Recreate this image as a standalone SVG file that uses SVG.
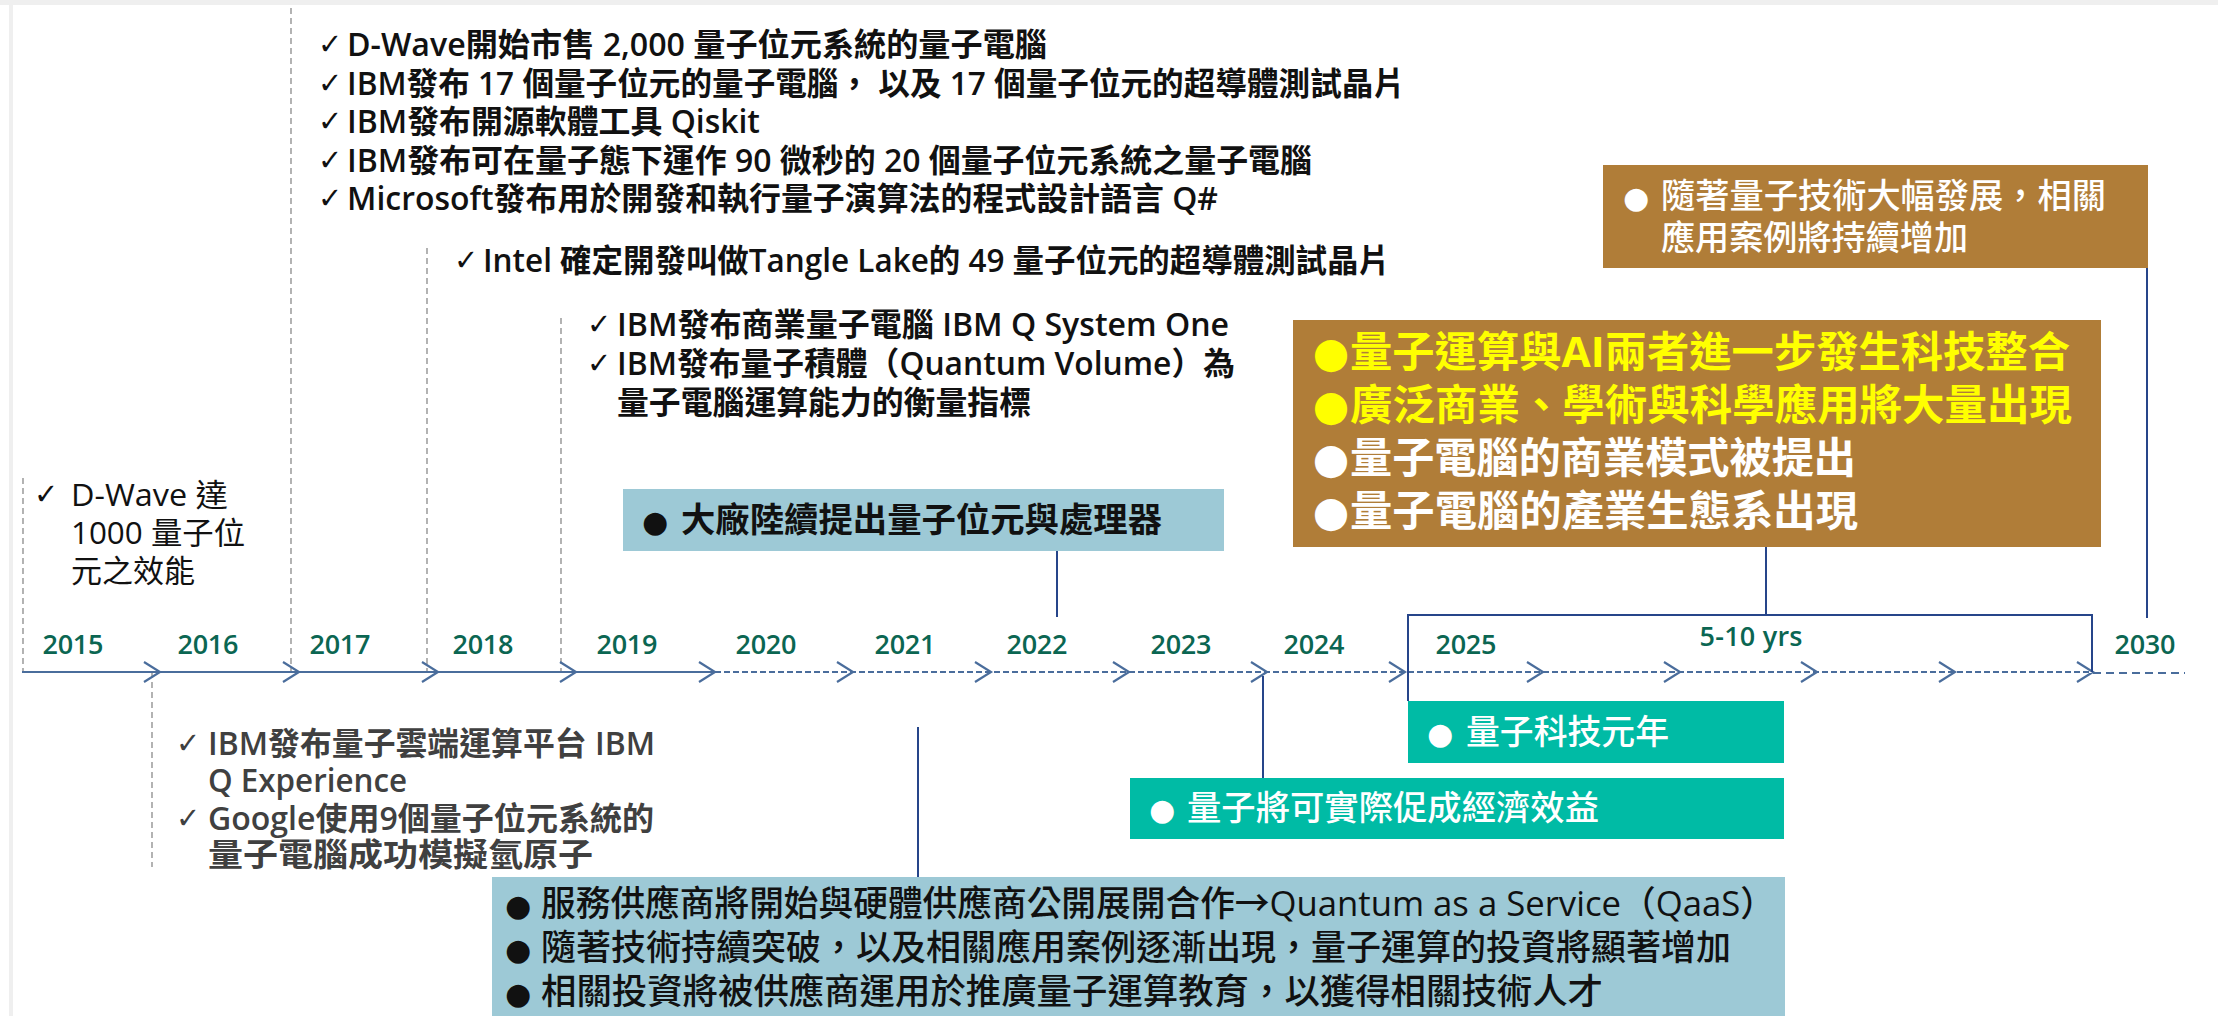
<svg xmlns="http://www.w3.org/2000/svg" width="2218" height="1016" viewBox="0 0 2218 1016">
<style>
.t{font-family:'Open Sans','Noto Sans CJK TC',sans-serif;}
.chk{font-family:'DejaVu Sans',sans-serif;font-size:29px;fill:#111;}
.bul{font-family:'DejaVu Sans',sans-serif;text-anchor:middle;}
.yr{font-family:'Open Sans','Noto Sans CJK TC',sans-serif;font-size:27px;font-weight:600;fill:#0B6652;text-anchor:middle;}
.dash{stroke:#8a8a8a;stroke-width:1.3;stroke-dasharray:6 4;fill:none;}
.conn{stroke:#26458a;stroke-width:2;fill:none;}
.axis{stroke:#4a6d9c;stroke-width:2.2;fill:none;}
.blk{fill:#111;font-weight:600;font-size:32px;}
.lb{fill:#9DC9D6;}
.teal{fill:#00BBA5;}
.brown{fill:#B07D38;}
.wt{fill:#fff;font-size:34px;font-weight:500;}
</style>
<rect x="0" y="0" width="2218" height="1016" fill="#fff"/>
<rect x="0" y="0" width="2218" height="5" fill="#efefef"/>
<rect x="9" y="0" width="4" height="1016" fill="#efefef"/>

<g id="guides">
<line class="dash" x1="23" y1="478" x2="23" y2="672"/>
<line class="dash" x1="291" y1="8" x2="291" y2="672"/>
<line class="dash" x1="427" y1="248" x2="427" y2="672"/>
<line class="dash" x1="561" y1="318" x2="561" y2="672"/>
<line class="dash" x1="152" y1="672" x2="152" y2="867"/>
</g>

<g id="timeline">
<line class="axis" x1="22" y1="672" x2="715" y2="672"/>
<line class="axis" x1="715" y1="672" x2="2093" y2="672" stroke-dasharray="6 3"/>
<line class="axis" x1="2093" y1="673" x2="2185" y2="673" stroke-dasharray="8 5" stroke-width="1.6"/>
<path class="axis" d="M144,662L160,672L144,682 M283,662L299,672L283,682 M422,662L438,672L422,682 M560,662L576,672L560,682 M699,662L715,672L699,682 M837,662L853,672L837,682 M975,662L991,672L975,682 M1113,662L1129,672L1113,682 M1251,662L1267,672L1251,682 M1389,662L1405,672L1389,682 M1527,662L1543,672L1527,682 M1664,662L1680,672L1664,682 M1801,662L1817,672L1801,682 M1939,662L1955,672L1939,682 M2077,662L2093,672L2077,682"/>
</g>

<g id="years">
<text class="yr" x="73" y="654" textLength="61">2015</text>
<text class="yr" x="208" y="654" textLength="61">2016</text>
<text class="yr" x="340" y="654" textLength="61">2017</text>
<text class="yr" x="483" y="654" textLength="61">2018</text>
<text class="yr" x="627" y="654" textLength="61">2019</text>
<text class="yr" x="766" y="654" textLength="61">2020</text>
<text class="yr" x="905" y="654" textLength="61">2021</text>
<text class="yr" x="1037" y="654" textLength="61">2022</text>
<text class="yr" x="1181" y="654" textLength="61">2023</text>
<text class="yr" x="1314" y="654" textLength="61">2024</text>
<text class="yr" x="1466" y="654" textLength="61">2025</text>
<text class="yr" x="2145" y="654" textLength="61">2030</text>
<text class="yr" x="1751" y="646" textLength="103" font-size="26">5-10 yrs</text>
</g>

<g id="connectors">
<line class="conn" x1="1057" y1="551" x2="1057" y2="617"/>
<line class="conn" x1="1263" y1="676" x2="1263" y2="778"/>
<line class="conn" x1="918" y1="727" x2="918" y2="877"/>
<line class="conn" x1="1766" y1="547" x2="1766" y2="615"/>
<line class="conn" x1="2147" y1="268" x2="2147" y2="618"/>
<polyline class="conn" points="1408,701 1408,615 2092,615 2092,672"/>
</g>

<g id="n2015">
<text class="chk" x="34" y="504">✓</text>
<text class="t" fill="#111" font-size="31" x="71" y="506" textLength="157" lengthAdjust="spacingAndGlyphs">D-Wave 達</text>
<text class="t" fill="#111" font-size="31" x="71" y="544" textLength="174" lengthAdjust="spacingAndGlyphs">1000 量子位</text>
<text class="t" fill="#111" font-size="31" x="71" y="582" textLength="124" lengthAdjust="spacingAndGlyphs">元之效能</text>
</g>

<g id="n2016">
<text class="chk" x="176" y="753" style="fill:#404040">✓</text>
<text class="t blk" style="fill:#404040" x="208" y="755" textLength="447" lengthAdjust="spacingAndGlyphs">IBM發布量子雲端運算平台 IBM</text>
<text class="t blk" style="fill:#404040" x="208" y="792" textLength="199" lengthAdjust="spacingAndGlyphs">Q Experience</text>
<text class="chk" x="176" y="828" style="fill:#404040">✓</text>
<text class="t blk" style="fill:#404040" x="208" y="830" textLength="446" lengthAdjust="spacingAndGlyphs">Google使用9個量子位元系統的</text>
<text class="t blk" style="fill:#404040" x="208" y="866" textLength="385" lengthAdjust="spacingAndGlyphs">量子電腦成功模擬氫原子</text>
</g>

<g id="n2017">
<text class="chk" x="318" y="54">✓</text>
<text class="t blk" x="347" y="56" textLength="700" lengthAdjust="spacingAndGlyphs">D-Wave開始市售 2,000 量子位元系統的量子電腦</text>
<text class="chk" x="318" y="93">✓</text>
<text class="t blk" x="347" y="95" textLength="1058" lengthAdjust="spacingAndGlyphs">IBM發布 17 個量子位元的量子電腦， 以及 17 個量子位元的超導體測試晶片</text>
<text class="chk" x="318" y="131">✓</text>
<text class="t blk" x="347" y="133" textLength="413" lengthAdjust="spacingAndGlyphs">IBM發布開源軟體工具 Qiskit</text>
<text class="chk" x="318" y="170">✓</text>
<text class="t blk" x="347" y="172" textLength="965" lengthAdjust="spacingAndGlyphs">IBM發布可在量子態下運作 90 微秒的 20 個量子位元系統之量子電腦</text>
<text class="chk" x="318" y="208">✓</text>
<text class="t blk" x="347" y="210" textLength="871" lengthAdjust="spacingAndGlyphs">Microsoft發布用於開發和執行量子演算法的程式設計語言 Q#</text>
</g>

<g id="n2018">
<text class="chk" x="454" y="270">✓</text>
<text class="t blk" x="483" y="272" textLength="907" lengthAdjust="spacingAndGlyphs">Intel 確定開發叫做Tangle Lake的 49 量子位元的超導體測試晶片</text>
</g>

<g id="n2019">
<text class="chk" x="587" y="334">✓</text>
<text class="t blk" x="617" y="336" textLength="612" lengthAdjust="spacingAndGlyphs">IBM發布商業量子電腦 IBM Q System One</text>
<text class="chk" x="587" y="373">✓</text>
<text class="t blk" x="617" y="375" textLength="618" lengthAdjust="spacingAndGlyphs">IBM發布量子積體（Quantum Volume）為</text>
<text class="t blk" x="617" y="414" textLength="414" lengthAdjust="spacingAndGlyphs">量子電腦運算能力的衡量指標</text>
</g>

<g id="n2022">
<rect class="lb" x="623" y="489" width="601" height="62"/>
<text class="bul" x="655" y="532" font-size="30" fill="#111">●</text>
<text class="t" x="681" y="532" font-size="34" font-weight="700" fill="#111" textLength="481" lengthAdjust="spacingAndGlyphs">大廠陸續提出量子位元與處理器</text>
</g>

<g id="n2021">
<rect class="lb" x="492" y="877" width="1293" height="139"/>
<text class="bul" x="518" y="916" font-size="30" fill="#111">●</text>
<text class="t" x="541" y="916" font-size="35" font-weight="500" fill="#111" textLength="1234" lengthAdjust="spacingAndGlyphs">服務供應商將開始與硬體供應商公開展開合作→Quantum as a Service（QaaS）</text>
<text class="bul" x="518" y="960" font-size="30" fill="#111">●</text>
<text class="t" x="541" y="960" font-size="35" font-weight="500" fill="#111" textLength="1190" lengthAdjust="spacingAndGlyphs">隨著技術持續突破，以及相關應用案例逐漸出現，量子運算的投資將顯著增加</text>
<text class="bul" x="518" y="1004" font-size="30" fill="#111">●</text>
<text class="t" x="541" y="1004" font-size="35" font-weight="500" fill="#111" textLength="1062" lengthAdjust="spacingAndGlyphs">相關投資將被供應商運用於推廣量子運算教育，以獲得相關技術人才</text>
</g>

<g id="n2024">
<rect class="teal" x="1130" y="778" width="654" height="61"/>
<text class="bul" x="1162" y="820" font-size="30" fill="#fff">●</text>
<text class="t wt" x="1187" y="820" textLength="412" lengthAdjust="spacingAndGlyphs">量子將可實際促成經濟效益</text>
</g>

<g id="n2025">
<rect class="teal" x="1408" y="701" width="376" height="62"/>
<text class="bul" x="1440" y="744" font-size="30" fill="#fff">●</text>
<text class="t wt" x="1466" y="744" textLength="203" lengthAdjust="spacingAndGlyphs">量子科技元年</text>
</g>

<g id="n5to10">
<rect class="brown" x="1293" y="320" width="808" height="227"/>
<text class="bul" x="1331" y="367" font-size="42" fill="#FFFF00">●</text>
<text class="t" x="1350" y="367" font-size="42" font-weight="700" fill="#FFFF00" textLength="720" lengthAdjust="spacingAndGlyphs">量子運算與AI兩者進一步發生科技整合</text>
<text class="bul" x="1331" y="420" font-size="42" fill="#FFFF00">●</text>
<text class="t" x="1350" y="420" font-size="42" font-weight="700" fill="#FFFF00" textLength="722" lengthAdjust="spacingAndGlyphs">廣泛商業、學術與科學應用將大量出現</text>
<text class="bul" x="1331" y="473" font-size="42" fill="#fff">●</text>
<text class="t" x="1350" y="473" font-size="42" font-weight="700" fill="#fff" textLength="506" lengthAdjust="spacingAndGlyphs">量子電腦的商業模式被提出</text>
<text class="bul" x="1331" y="526" font-size="42" fill="#fff">●</text>
<text class="t" x="1350" y="526" font-size="42" font-weight="700" fill="#fff" textLength="508" lengthAdjust="spacingAndGlyphs">量子電腦的產業生態系出現</text>
</g>

<g id="n2030">
<rect class="brown" x="1603" y="165" width="545" height="103"/>
<text class="bul" x="1636" y="208" font-size="30" fill="#fff">●</text>
<text class="t wt" x="1661" y="208" textLength="445" lengthAdjust="spacingAndGlyphs">隨著量子技術大幅發展，相關</text>
<text class="t wt" x="1661" y="250" textLength="307" lengthAdjust="spacingAndGlyphs">應用案例將持續增加</text>
</g>
</svg>
